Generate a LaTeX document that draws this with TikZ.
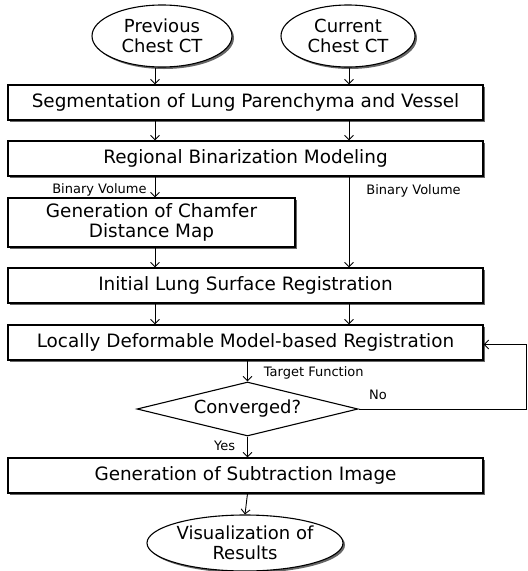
\documentclass[tikz,border=0pt]{standalone}
\usepackage{fontspec}
\setmainfont{DejaVu Sans}
\usetikzlibrary{shapes.geometric}
\usetikzlibrary{arrows.meta}
\usetikzlibrary{shadows}

\begin{document}
\begin{tikzpicture}[x=1pt,y=-1pt,
        flow/.style={-{Straight Barb[length=4.5pt,width=9pt]},line width=0.9pt},
        shade/.style={drop shadow={shadow xshift=2pt,shadow yshift=-2pt,fill=black!60,opacity=1}},
        stepbox/.style={draw,line width=1.1pt,fill=white,shade,inner sep=0pt,
                minimum width=475pt,minimum height=35pt,align=center,
                font=\fontsize{18.4}{20}\selectfont},
        terminal/.style={ellipse,draw,line width=1.1pt,fill=white,shade,inner sep=0pt,
                align=center,font=\fontsize{18}{20}\selectfont},
        decision/.style={diamond,draw,line width=1.1pt,fill=white,inner sep=0pt,aspect=4,
                minimum width=221pt,minimum height=54pt,font=\fontsize{18}{20}\selectfont},
        tag/.style={font=\fontsize{13}{15}\selectfont,inner sep=0pt}]

        \useasboundingbox (0,0) rectangle (528,571);

        \coordinate (lx) at (155,0);
        \coordinate (rx) at (349,0);
        \coordinate (rt) at (526.5,0);

        \node[terminal,minimum width=140pt,minimum height=62pt] (prev) at (162,36) {Previous\\Chest CT};
        \node[terminal,minimum width=134pt,minimum height=62pt] (curr) at (348,36) {Current\\Chest CT};

        \node[stepbox] (seg) at (245.5,102.5) {Segmentation of Lung Parenchyma and Vessel};
        \node[stepbox] (rbm) at (245.5,158.5) {Regional Binarization Modeling};
        \node[stepbox,minimum width=287pt,minimum height=49pt] (cdm) at (151.5,222.5) {Generation of Chamfer\\Distance Map};
        \node[stepbox] (init) at (245.5,285.5) {Initial Lung Surface Registration};
        \node[stepbox] (ldmr) at (245.5,342.5) {Locally Deformable Model-based Registration};
        \node[decision] (conv) at (247.5,409) {Converged?};
        \node[stepbox] (sub) at (245.5,475.5) {Generation of Subtraction Image};
        \node[terminal,minimum width=196pt,minimum height=56pt] (vis) at (245,543) {Visualization of\\Results};

        \node[tag,anchor=west] (no) at (369,395) {No};

        \draw[flow] (prev.south -| lx) -- (seg.north -| lx);
        \draw[flow] (curr.south -| rx) -- (seg.north -| rx);
        \draw[flow] (seg.south -| lx) -- (rbm.north -| lx);
        \draw[flow] (seg.south -| rx) -- (rbm.north -| rx);
        \draw[flow] (rbm.south -| lx) -- node[tag,anchor=east,pos=0.65,xshift=-8pt] {Binary Volume} (cdm.north -| lx);
        \draw[flow] (rbm.south -| rx) -- node[tag,anchor=west,pos=0.16,xshift=17pt] {Binary Volume} (init.north -| rx);
        \draw[flow] (cdm.south -| lx) -- (init.north -| lx);
        \draw[flow] (init.south -| lx) -- (ldmr.north -| lx);
        \draw[flow] (init.south -| rx) -- (ldmr.north -| rx);
        \draw[flow] (ldmr.south -| conv.north) -- node[tag,anchor=west,pos=0.6,xshift=16pt] {Target Function} (conv.north);
        \draw[flow] (conv.south) -- node[tag,anchor=east,pos=0.45,xshift=-12pt] {Yes} (sub.north -| conv.south);
        \draw[flow] (conv.east) -- (conv.east -| rt) |- ([yshift=-2pt]ldmr.east);
        \draw[flow] (sub.south -| conv.south) -- (vis.north);

\end{tikzpicture}
\end{document}
